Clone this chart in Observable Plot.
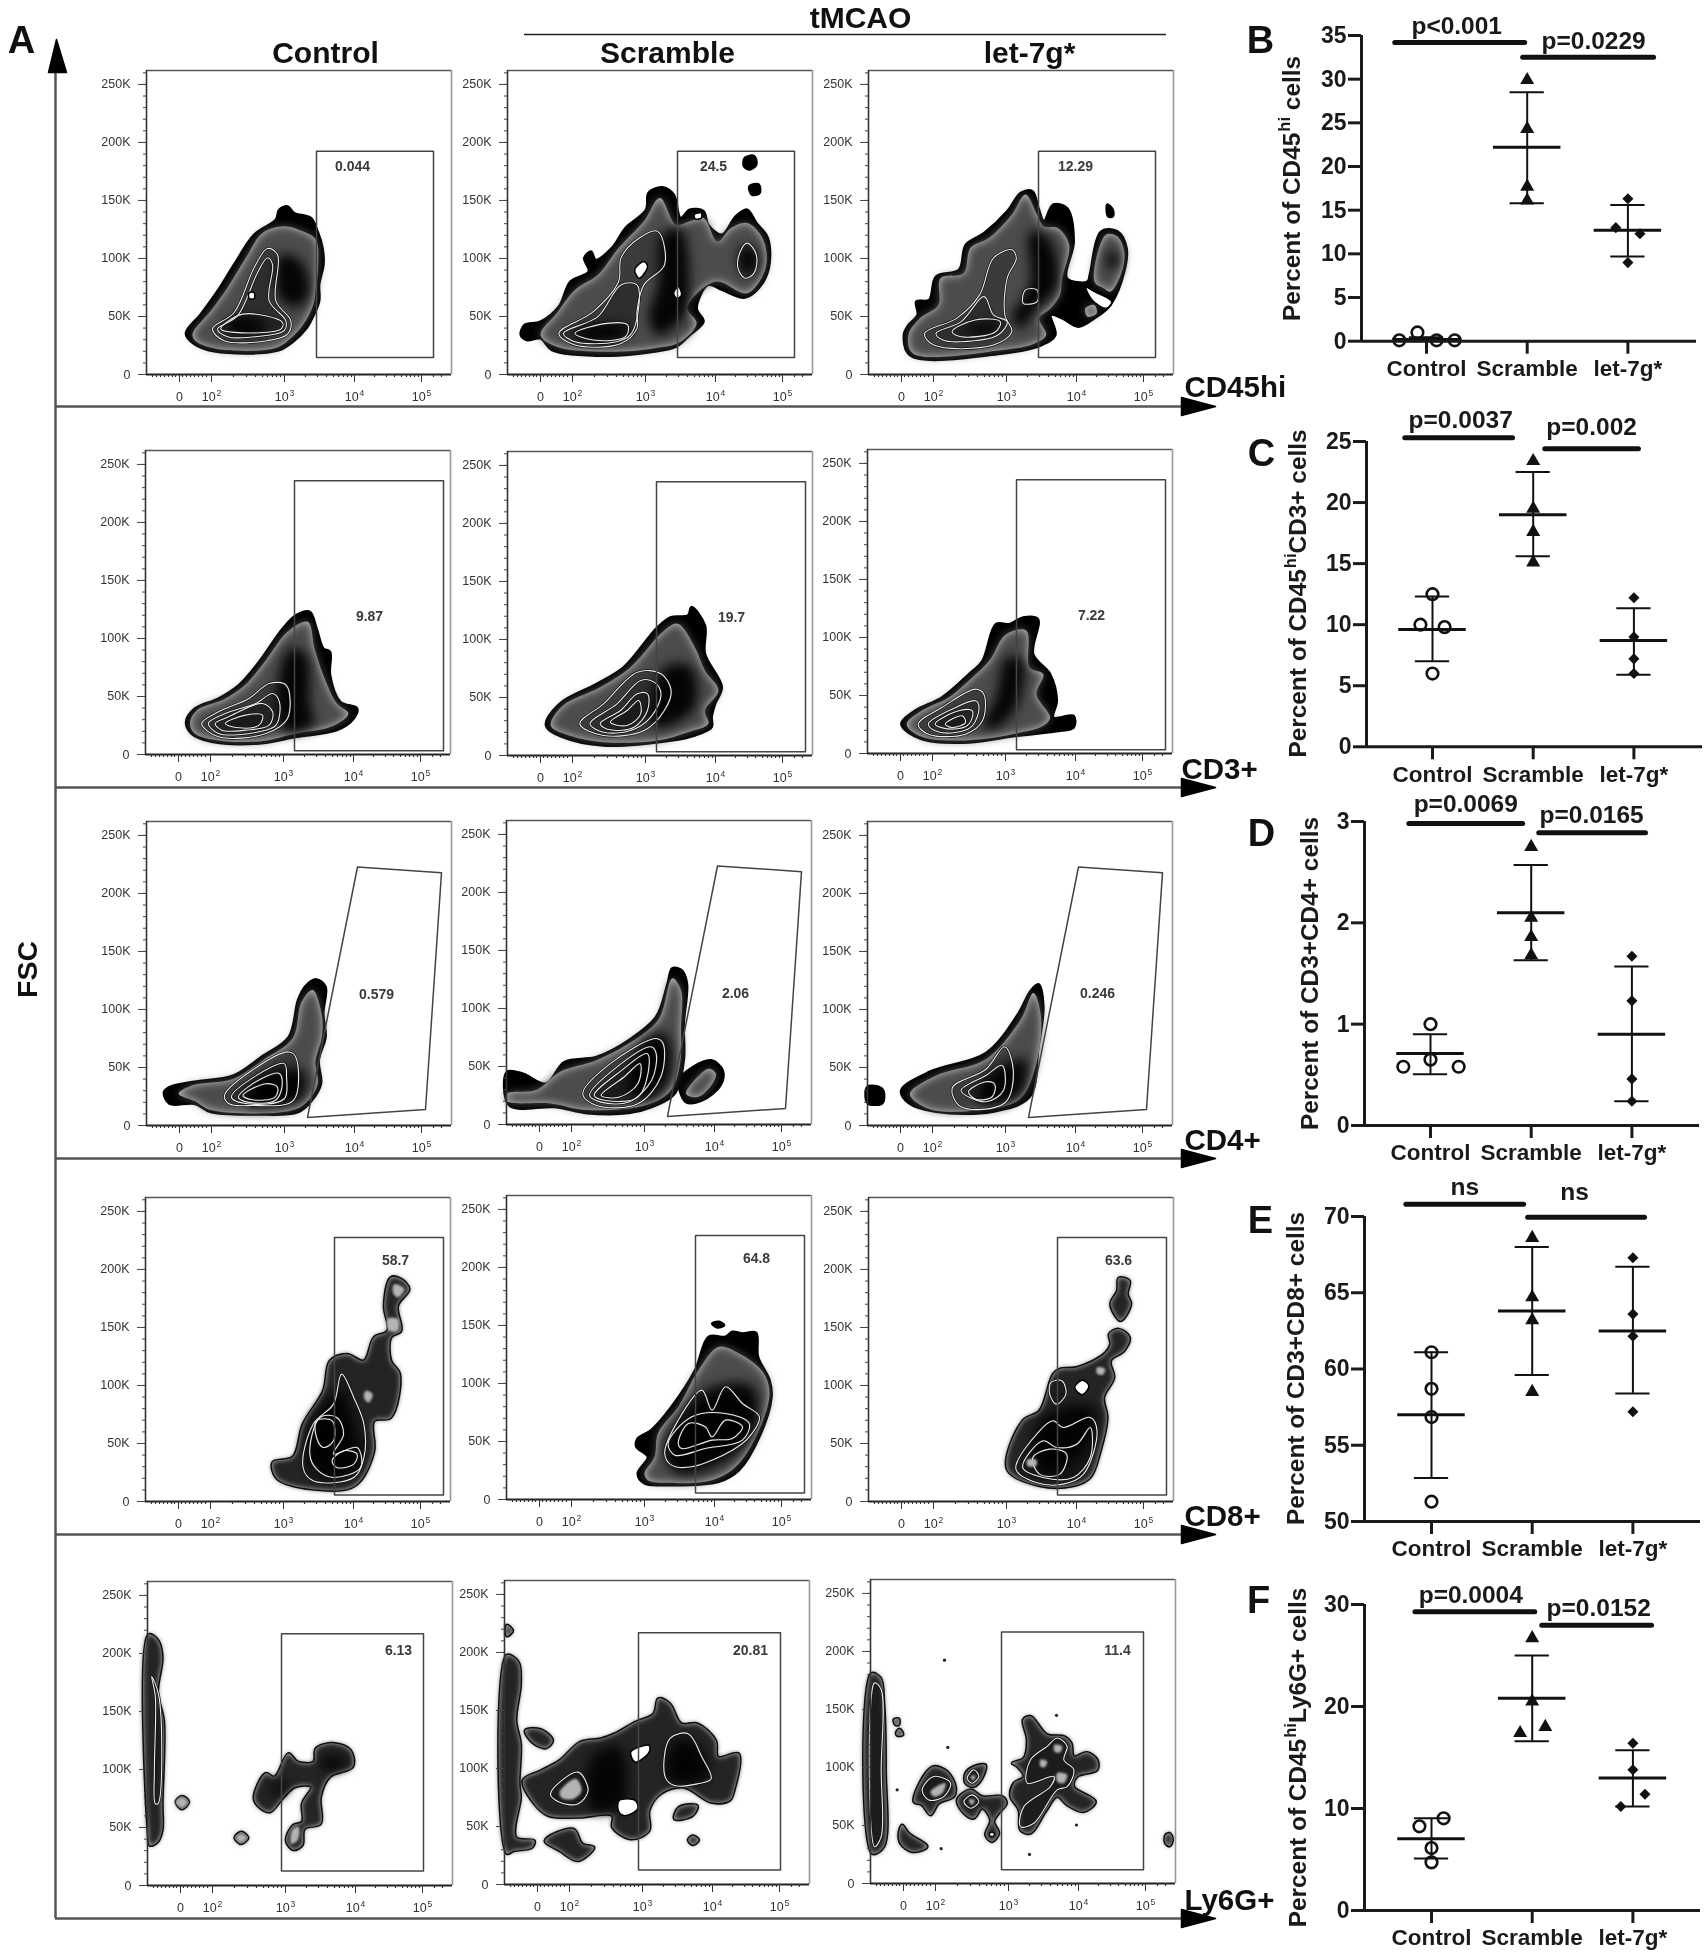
<!DOCTYPE html>
<html><head><meta charset="utf-8">
<script src="https://cdn.jsdelivr.net/npm/d3@7"></script>
<script src="https://cdn.jsdelivr.net/npm/@observablehq/plot@0.6"></script>
<style>html,body{margin:0;background:#fff}#page{position:relative;width:1705px;height:1955px;overflow:hidden;background:#fff;filter:blur(.35px)}</style>
</head><body><div id="page"></div>
<script>
// ---------- group summary panels B–F : [offset position, percent] ----------
const groups = ["Control", "Scramble", "let-7g*"];
const bControl = [[-0.27,0.1],[-0.09,1.0],[0.10,0.1],[0.28,0.1]];
const bScramble = [[1,29.9],[1,24.3],[1,17.7],[1,16.1]];
const bLet = [[2,16.3],[1.88,13.0],[2.12,12.3],[2,9.0]];
const bMean = [0.2,22.2,12.7], bHigh = [0.45,28.5,15.6], bLow = [0,15.8,9.7];
const cControl = [[0,12.5],[-0.12,10.0],[0.12,9.8],[0,6.0]];
const cScramble = [[1,23.4],[1,19.5],[1,17.6],[1,15.1]];
const cLet = [[2,12.2],[2,9.0],[2,7.2],[2,6.0]];
const cMean = [9.6,19.0,8.7], cHigh = [12.3,22.5,11.35], cLow = [7.0,15.6,5.9];
const dControl = [[0,1.0],[0,0.65],[-0.27,0.58],[0.28,0.58]];
const dScramble = [[1,2.75],[1,2.05],[1,1.86],[1,1.68]];
const dLet = [[2,1.67],[2,1.23],[2,0.46],[2,0.24]];
const dMean = [0.71,2.10,0.90], dHigh = [0.90,2.57,1.57], dLow = [0.505,1.63,0.24];
const eControl = [[0,61.1],[0,58.7],[0,56.85],[0,51.3]];
const eScramble = [[1,68.6],[1,64.7],[1,63.2],[1,58.5]];
const eLet = [[2,67.3],[2,63.6],[2,62.15],[2,57.2]];
const eMean = [57.0,63.8,62.5], eHigh = [61.1,68.0,66.7], eLow = [52.85,59.6,58.4];
const fControl = [[0.12,9.04],[-0.12,8.25],[0,6.12],[0,4.72]];
const fScramble = [[1,26.7],[1,20.5],[0.88,17.4],[1.13,18.0]];
const fLet = [[2,16.4],[2,13.8],[2.12,11.4],[1.88,10.2]];
const fMean = [7.04,20.8,13.0], fHigh = [9.04,25.0,15.7], fLow = [5.1,16.6,10.2];

// ---------- flow cytometry panels ----------
const fscTicks = [0,50,100,150,200,250];
const fscMinor = d3.range(0,261,10);
const channelTicks = [33,65,138,208,275];
const channelLabels = ["0","10^2","10^3","10^4","10^5"];
const channelMinor = [6,10,14,18,22,26,29,33,36,40,44,48,52,56,60,
  87,100,109,116,121,126,130,134, 159,171,180,187,192,197,201,205, 228,240,248,255,260,264,268,272, 287,295];

// gates: [channel, FSC in K]
const gateCd45 = [[170,14.6],[170,192.5],[287,192.5],[287,14.6]];
const gateCd3 = [[149,3.3],[149,236],[298,236],[298,3.3]];
const gateCd4 = [[161,7],[211,222.8],[295,217.9],[279,13.8]];
const gateCd8 = [[189,5.5],[189,227.5],[298,227.5],[298,5.5]];
const gateLy6 = [[134,12.5],[134,217],[276,217],[276,12.5]];
const gateLy6Let = [[131,11.8],[131,216.7],[273,216.7],[273,11.8]];

// crop readings calibrate each contour outline onto channel / FSC
const c11={x0:437,sx:3,y0:1122,sy:3.5}, c12={x0:103,sx:2.178,y0:968,sy:3.47}, c13={x0:888,sx:2.178,y0:968,sy:3.47};
const c21={x0:22,sx:1.479,y0:938,sy:3.48}, c22={x0:558,sx:1.479,y0:945,sy:3.48}, c23={x0:1090,sx:1.479,y0:938,sy:3.48};
const c31={x0:100,sx:2.178,y0:945,sy:3.47}, c32={x0:884,sx:2.178,y0:942,sy:3.47}, c33={x0:695,sx:.8018,y0:903,sy:.928};
const c41={x0:22,sx:1.479,y0:932,sy:3.48}, c42={x0:556,sx:1.479,y0:928,sy:3.48}, c43={x0:1092,sx:1.479,y0:932,sy:3.48};
const c51={x0:103,sx:2.178,y0:945,sy:3.47}, c52={x0:880,sx:2.178,y0:941,sy:3.47}, c53={x0:60,sx:3,y0:940,sy:3.47};

const ctlCd45 = {
 sil:[[[555,998],[600,940],[650,870],[700,790],[760,700],[825,655],[835,625],[860,615],[880,635],[930,650],[950,690],[965,740],[968,790],[955,850],[955,900],[935,950],[915,985],[880,1020],[830,1050],[640,1052],[580,1030]]],
 body:[[[575,1000],[630,930],[680,860],[735,770],[785,695],[850,675],[905,690],[945,715],[952,790],[945,860],[938,910],[908,970],[873,1010],[825,1042],[650,1045],[585,1022]]],
 core:[[[840,760],[900,780],[925,880],[880,920],[830,880]],[[680,965],[740,950],[800,975],[780,995],[690,995]]],
 lines:[[[635,985],[700,935],[760,800],[800,742],[830,760],[825,900],[870,960],[860,1000],[800,1020],[670,1020]],[[650,985],[710,945],[770,815],[800,770],[815,790],[805,900],[855,960],[850,990],[790,1005],[680,1008]],[[660,985],[725,940],[845,965],[840,985],[700,995]]],
 holes:[[[745,875],[760,875],[760,893],[745,893]]]};
const scrCd45 = {
 sil:[[[132,850],[140,820],[175,810],[215,765],[240,690],[280,660],[270,620],[285,600],[295,625],[330,590],[360,530],[405,475],[410,425],[440,408],[465,430],[480,500],[500,475],[530,480],[540,520],[570,550],[600,495],[625,475],[645,515],[670,560],[672,650],[650,710],[620,738],[570,715],[540,700],[515,770],[530,810],[500,850],[470,885],[420,900],[320,912],[200,895],[175,860],[145,865]],
  [[620,320],[640,315],[645,340],[630,355],[618,345]],[[630,405],[650,400],[652,425],[635,430]]],
 body:[[[175,850],[210,785],[250,715],[300,670],[345,590],[400,510],[435,440],[470,520],[500,510],[530,500],[560,570],[590,530],[625,515],[660,565],[665,650],[625,725],[560,690],[520,720],[495,770],[515,815],[480,870],[420,890],[320,900],[210,885]]],
 core:[[[440,550],[480,530],[500,700],[490,790],[430,850],[410,800],[430,700]],[[250,835],[350,820],[370,840],[340,860],[260,860]],[[610,590],[640,590],[645,660],[615,665]]],
 lines:[[[215,845],[290,780],[345,690],[350,620],[390,560],[430,540],[445,640],[400,700],[385,780],[385,830],[350,875],[250,880]],[[225,845],[300,795],[350,700],[385,700],[385,800],[370,850],[340,870],[250,870]],[[250,845],[320,815],[365,820],[360,855],[290,865]],[[625,575],[645,610],[640,665],[620,680],[605,650],[610,600]]],
 holes:[[[380,655],[400,630],[408,645],[390,680]],[[465,725],[475,705],[482,730],[472,740]],[[510,490],[525,485],[525,500],[512,503]]]};
const letCd45 = {
 sil:[[[965,850],[975,820],[995,790],[992,750],[1020,745],[1035,675],[1085,655],[1100,580],[1140,545],[1190,480],[1220,425],[1245,420],[1258,470],[1270,510],[1290,460],[1320,470],[1335,570],[1320,680],[1365,690],[1370,670],[1395,540],[1430,540],[1450,590],[1445,660],[1415,760],[1380,800],[1345,825],[1310,800],[1285,790],[1295,850],[1265,880],[1180,905],[980,912]],
  [[1408,460],[1420,475],[1420,495],[1410,495]]],
 body:[[[975,850],[1000,800],[1040,760],[1045,680],[1095,665],[1110,590],[1150,560],[1200,490],[1230,430],[1255,490],[1270,525],[1300,530],[1325,580],[1310,680],[1305,730],[1285,770],[1260,800],[1275,850],[1250,875],[1180,895],[985,905]],
  [[1380,690],[1405,550],[1430,555],[1445,600],[1440,660],[1415,720],[1400,710]],[[1360,770],[1380,760],[1385,785],[1365,795]]],
 core:[[[1240,540],[1280,560],[1300,700],[1250,780],[1220,830],[1200,800],[1240,700]],[[1100,835],[1150,815],[1180,830],[1120,850]],[[1410,600],[1430,610],[1425,650],[1410,650]]],
 lines:[[[1010,845],[1080,800],[1130,730],[1160,620],[1200,595],[1210,620],[1190,680],[1185,790],[1200,840],[1160,880],[1030,880]],[[1035,845],[1090,810],[1140,735],[1160,790],[1190,810],[1170,850],[1090,870],[1050,865]],[[1070,840],[1120,805],[1175,810],[1165,840],[1090,855]],[[1230,715],[1255,715],[1255,750],[1225,755]]],
 holes:[[[1362,708],[1380,720],[1418,750],[1405,770],[1375,745]]]};

const ctlCd3 = {
 sil:[[[82,840],[95,800],[130,770],[160,730],[190,660],[225,560],[245,520],[265,510],[275,560],[285,620],[295,630],[295,700],[310,780],[335,800],[330,830],[305,865],[245,885],[190,905],[120,900],[90,875]]],
 body:[[[88,840],[98,805],[138,772],[168,732],[200,655],[232,570],[262,540],[272,620],[285,700],[305,785],[322,815],[300,852],[240,877],[190,899],[120,893],[93,872]]],
 core:[[[235,620],[260,640],[265,780],[270,850],[230,870],[215,800]]],
 lines:[[[105,845],[130,810],[175,770],[205,725],[230,730],[232,830],[200,875],[130,885]],[[115,845],[140,815],[185,785],[210,755],[220,780],[215,850],[190,870],[130,875]],[[125,845],[145,825],[195,785],[210,810],[205,850],[170,865],[135,865]],[[140,845],[170,820],[195,820],[190,850],[160,858]]]};
const scrCd3 = {
 sil:[[[615,855],[635,790],[690,730],[730,680],[780,560],[800,530],[825,525],[830,500],[850,555],[850,640],[875,740],[865,790],[860,830],[860,860],[835,885],[800,900],[700,915],[640,890]]],
 body:[[[622,855],[640,795],[695,740],[740,680],[790,570],[810,550],[835,620],[850,690],[870,750],[850,810],[855,850],[825,875],[780,900],[700,905],[645,882]]],
 core:[[[790,680],[830,680],[835,800],[790,860],[770,850]]],
 lines:[[[665,850],[700,790],[750,695],[785,700],[800,750],[790,810],[760,870],[700,885]],[[680,850],[720,790],[755,720],[775,725],[785,760],[770,830],[740,870],[700,875]],[[695,850],[725,810],[750,760],[765,760],[765,810],[745,860],[710,868]],[[710,845],[735,810],[752,780],[755,820],[735,855]]]};
const letCd3 = {
 sil:[[[1140,850],[1160,810],[1200,770],[1240,700],[1260,660],[1280,550],[1300,550],[1320,530],[1342,535],[1335,640],[1360,700],[1370,780],[1365,830],[1395,825],[1395,860],[1375,870],[1310,885],[1240,905],[1170,895]]],
 body:[[[1148,850],[1170,810],[1210,770],[1245,710],[1270,660],[1295,580],[1325,570],[1330,680],[1350,700],[1340,760],[1360,830],[1350,855],[1310,878],[1240,898],[1170,888]]],
 core:[[[1295,650],[1320,660],[1310,800],[1280,860],[1260,860],[1280,770]]],
 lines:[[[1165,850],[1200,800],[1250,745],[1262,760],[1260,840],[1235,880],[1180,880]],[[1180,850],[1215,805],[1250,780],[1255,800],[1245,855],[1220,875],[1190,870]],[[1190,850],[1225,810],[1245,810],[1240,850],[1215,865]],[[1205,850],[1230,825],[1235,845],[1215,860]]]};

const ctlCd4 = {
 sil:[[[138,845],[150,830],[200,815],[290,795],[350,740],[410,680],[430,570],[445,530],[470,508],[490,530],[485,610],[490,680],[475,750],[480,820],[460,870],[430,905],[340,912],[240,905],[205,880],[150,880]]],
 body:[[[170,850],[200,825],[290,805],[355,748],[418,685],[438,575],[462,540],[482,615],[482,680],[468,755],[473,820],[447,878],[412,902],[240,899],[205,872]]],
 core:[[[350,800],[440,780],[440,860],[320,880]]],
 lines:[[[270,855],[330,780],[410,725],[425,740],[420,870],[330,885],[280,880]],[[285,860],[340,795],[400,760],[405,800],[400,865],[320,880]],[[300,860],[350,805],[390,790],[395,830],[380,870],[320,875]],[[310,855],[360,820],[385,830],[380,860],[330,868]]]};
const scrCd4 = {
 sil:[[[885,785],[920,790],[970,820],[1010,755],[1080,740],[1150,690],[1210,620],[1235,520],[1245,475],[1265,480],[1277,520],[1270,640],[1270,750],[1250,850],[1200,890],[1150,908],[1060,908],[990,890],[890,885]],[[1260,810],[1290,770],[1330,750],[1355,780],[1350,825],[1310,870],[1275,875]]],
 body:[[[885,850],[950,838],[1000,785],[1080,750],[1150,700],[1215,628],[1245,505],[1264,540],[1264,650],[1262,760],[1242,840],[1192,882],[1060,899],[980,879],[885,872]],[[1275,850],[1300,800],[1325,775],[1340,790],[1330,825],[1300,860]]],
 core:[[[1180,700],[1230,670],[1240,800],[1190,870],[1150,830]]],
 lines:[[[1050,850],[1110,760],[1210,685],[1225,700],[1220,800],[1170,880],[1080,885]],[[1065,855],[1120,775],[1200,710],[1210,730],[1200,810],[1150,875],[1090,875]],[[1075,855],[1135,780],[1190,730],[1195,760],[1170,860],[1100,870]],[[1090,855],[1140,800],[1175,760],[1170,820],[1130,860]]]};
const letCd4 = {
 sil:[[[695,872],[707,874],[707,885],[695,885]],[[722,875],[745,860],[790,845],[815,815],[826,795],[832,790],[836,808],[832,840],[825,880],[795,892],[750,892],[728,885]]],
 body:[[[729,878],[750,863],[790,850],[818,818],[828,797],[834,815],[830,855],[817,882],[790,890],[745,890]]],
 core:[[[790,865],[822,850],[818,878],[785,886]]],
 lines:[[[763,873],[790,858],[805,840],[812,860],[805,885],[770,888]],[[770,875],[790,863],[803,855],[804,875],[790,884]],[[776,876],[790,868],[797,870],[795,880],[782,882]]]};

const ctlCd8 = {
 sil:[[[210,815],[240,798],[255,700],[285,600],[295,510],[320,490],[345,510],[360,440],[380,420],[375,345],[385,260],[400,265],[412,295],[395,345],[400,420],[385,440],[385,510],[398,550],[385,680],[360,690],[360,780],[340,870],[320,895],[240,885],[215,860]]],
 core:[[[270,680],[310,600],[330,700],[340,820],[290,860],[260,800]]],
 lines:[[[255,830],[270,700],[300,640],[312,550],[330,620],[345,700],[345,800],[330,860],[270,870]],[[265,790],[280,680],[305,680],[315,730],[300,790],[335,770],[340,830],[300,860],[275,835]],[[298,810],[315,780],[335,790],[330,820],[305,830]],[[275,690],[298,690],[300,750],[285,770],[275,740]]],
 light:[[[348,600],[358,610],[352,635],[345,620]],[[380,385],[395,385],[395,420],[382,420]],[[390,280],[405,295],[395,320],[388,305]]]};
const scrCd8 = {
 sil:[[[750,850],[765,800],[748,770],[750,745],[770,720],[800,650],[835,540],[855,440],[880,440],[890,425],[905,430],[925,428],[928,500],[945,570],[948,620],[930,740],[900,840],[870,875],[790,885],[760,880]],[[860,400],[870,395],[878,405],[868,412]]],
 body:[[[760,850],[775,800],[780,730],[810,650],[840,540],[870,470],[900,490],[935,545],[945,610],[925,740],[895,830],[860,870],[790,878],[765,870]]],
 core:[[[850,600],[920,590],[925,700],[890,800],[810,850],[790,780]]],
 lines:[[[790,790],[810,690],[845,600],[860,660],[880,590],[905,640],[930,680],[915,740],[890,780],[830,830],[800,825]],[[795,760],[830,680],[880,670],[915,700],[905,750],[850,775],[805,795]],[[810,760],[825,700],[850,710],[860,740],[880,690],[905,710],[890,745],[860,750],[815,775]]]};
const letCd8 = {
 sil:[[[1297,835],[1320,690],[1345,660],[1365,550],[1375,535],[1400,530],[1440,490],[1450,460],[1448,430],[1462,415],[1478,440],[1470,480],[1450,510],[1455,560],[1440,620],[1445,680],[1435,780],[1420,860],[1395,885],[1345,885]],[[1462,262],[1478,270],[1475,310],[1480,340],[1465,390],[1450,340],[1460,300]]],
 core:[[[1340,700],[1400,640],[1430,660],[1400,800],[1350,840]]],
 lines:[[[1310,835],[1345,720],[1365,690],[1380,710],[1420,680],[1430,720],[1410,850],[1380,880],[1340,875]],[[1320,830],[1350,750],[1370,770],[1400,760],[1420,710],[1420,800],[1395,860],[1350,860]],[[1335,800],[1360,775],[1385,790],[1375,850],[1345,850]],[[1362,575],[1378,570],[1384,610],[1370,640],[1360,610]]],
 light:[[[1327,807],[1340,807],[1340,825],[1327,825]],[[1430,530],[1442,535],[1438,552],[1430,548]]],
 holes:[[[1408,568],[1418,585],[1408,612],[1397,590]]]};

const ctlLy6 = {
 sil:[[[105,195],[125,210],[135,260],[125,370],[138,450],[135,700],[135,780],[125,815],[108,825],[105,800]],
  [[335,685],[360,610],[380,620],[410,550],[430,575],[465,575],[470,535],[510,520],[545,540],[550,590],[500,620],[480,680],[480,760],[445,775],[440,825],[420,838],[405,810],[420,765],[440,755],[440,700],[460,650],[425,650],[400,680],[370,725],[350,715]],
  [[165,695],[178,678],[193,695],[178,716]],[[293,802],[307,785],[322,802],[307,820]]],
 core:[[[480,570],[530,560],[530,590],[490,600]],[[370,650],[410,640],[400,670],[375,670]]],
 lines:[[[112,320],[120,380],[118,600],[120,700],[126,700],[128,380]]],
 light:[[[165,695],[178,682],[190,695],[178,712]],[[296,802],[307,790],[319,802],[307,816]],[[418,780],[432,770],[430,810],[416,820]]]};
const scrLy6 = {
 sil:[[[885,255],[910,275],[915,340],[905,450],[915,520],[912,640],[915,680],[905,800],[945,810],[940,830],[900,840],[885,848]],
  [[920,630],[960,600],[1000,570],[1045,515],[1090,505],[1120,490],[1165,455],[1205,430],[1215,385],[1240,400],[1265,460],[1300,460],[1340,510],[1345,560],[1390,550],[1380,660],[1370,690],[1330,695],[1270,650],[1220,670],[1195,720],[1195,780],[1155,805],[1115,770],[1115,735],[1040,740],[975,735],[945,700]],
  [[925,480],[960,478],[985,510],[970,533],[940,515]],[[1250,745],[1260,710],[1300,705],[1290,735]],[[1280,808],[1290,795],[1303,808],[1290,822]],[[968,810],[1030,775],[1050,820],[1075,830],[1040,870],[1000,840]],[[885,165],[898,182],[885,198]]],
 core:[[[1070,560],[1130,530],[1140,700],[1070,720]],[[1250,520],[1300,520],[1320,620],[1240,630]]],
 lines:[[[1230,620],[1240,505],[1280,490],[1310,560],[1330,625],[1300,640],[1250,645]],[[980,670],[1040,605],[1062,660],[1040,700],[1000,695]]],
 light:[[[1000,665],[1035,625],[1048,660],[1030,685],[1005,682]]],
 holes:[[[1130,690],[1165,690],[1170,715],[1140,735],[1128,720]],[[1155,545],[1195,525],[1195,545],[1165,575]]]};
const letLy6 = {
 sil:[[[62,312],[90,325],[100,400],[105,600],[100,830],[65,850]],
  [[190,695],[225,610],[250,590],[290,605],[315,650],[310,680],[265,700],[240,735],[215,705]],
  [[345,610],[370,590],[405,585],[395,625],[370,650],[345,640]],
  [[320,690],[360,660],[395,680],[455,680],[468,700],[445,730],[430,755],[445,790],[425,815],[405,795],[420,750],[395,715],[370,745],[340,730]],
  [[485,580],[520,565],[530,510],[518,450],[540,440],[590,495],[640,500],[662,520],[670,560],[710,548],[740,570],[740,600],[680,620],[670,650],[735,695],[700,725],[650,705],[620,680],[585,725],[540,790],[510,780],[505,720],[480,680],[490,640],[520,620],[500,590]],
  [[145,790],[155,765],[175,790],[230,830],[185,845],[150,820]],[[945,795],[958,790],[966,808],[958,828],[945,820]],[[130,450],[145,448],[145,465],[135,465]],[[137,490],[147,478],[158,495],[140,497]]],
 lines:[[[510,770],[520,710],[600,650],[610,620],[530,640],[540,570],[590,530],[620,505],[650,530],[640,570],[670,600],[650,650],[620,660],[550,760]],[[215,660],[250,620],[300,640],[280,680],[235,690]],[[350,625],[370,600],[385,620],[365,640]],[[340,695],[365,675],[385,695],[360,715]],[[72,340],[92,360],[92,600],[92,800],[72,830]]],
 light:[[[240,665],[285,640],[275,670],[250,680]],[[612,525],[635,530],[628,548],[612,545]],[[570,570],[590,575],[582,592],[570,590]],[[620,610],[650,615],[640,640],[620,635]],[[355,690],[372,690],[365,705]],[[360,620],[375,618],[368,632]]],
 holes:[[[418,788],[430,788],[430,798],[418,798]]]};
const letLy6Specks = [[282,272],[618,437],[292,533],[140,660],[272,836],[678,765],[537,853]];

// ---------- helpers ----------
const font = "Liberation Sans, Arial, sans-serif";
const SVGNS = "http://www.w3.org/2000/svg";
const page = document.getElementById("page");
const toPts = (polys, c) => polys.flatMap((p, i) => p.map(([a, b]) => ({id: i, x: (a - c.x0) / c.sx, y: (c.y0 - b) / c.sy})));
const shape = (polys, c, o) => Plot.line(toPts(polys || [], c), {x: "x", y: "y", z: "id", curve: "catmull-rom-closed", ...o});
function raise(svg) {
  svg.querySelectorAll("text").forEach(t => {
    if (!t.textContent.includes("^")) return;
    const parts = t.textContent.split("^");
    t.textContent = "";
    parts.forEach((s, i) => {
      const ts = document.createElementNS(SVGNS, "tspan");
      ts.textContent = s;
      if (i % 2) { ts.setAttribute("font-size", "68%"); ts.setAttribute("dy", "-0.6em"); ts.setAttribute("dx", "1"); }
      else if (i) ts.setAttribute("dy", "0.41em");
      t.appendChild(ts);
    });
  });
}
function place(svg, left, top) {
  raise(svg);
  svg.style.position = "absolute"; svg.style.left = left + "px"; svg.style.top = top + "px";
  svg.style.background = "transparent"; svg.style.overflow = "visible";
  page.appendChild(svg);
}

function flowPanel({left, top, blob, cal, gate, label, lx, ly, rimFill = "#c6c6c6", bodyFill = "#4c4c4c", soft = 4.5, extra = []}) {
  const ml = 62, mt = 4, mb = 48, mr = 4;
  const area = blob.body || blob.sil;
  const marks = [
    shape(blob.sil, cal, {fill: "#000", stroke: "#000", strokeWidth: blob.body ? 2.5 : 3}),
    shape(area, cal, {fill: rimFill, stroke: "none"}),
    shape(area, cal, {fill: bodyFill, stroke: "none", imageFilter: `blur(${soft}px)`}),
    shape(blob.core, cal, {fill: "#050505", imageFilter: "blur(6px)"}),
    shape(blob.lines, cal, {fill: "#000", fillOpacity: 0.22, stroke: "#111", strokeWidth: 2.4}),
    shape(blob.lines, cal, {stroke: "#ececec", strokeWidth: 1.1}),
    shape(blob.light, cal, {fill: "#b4b4b4", imageFilter: "blur(1.2px)"}),
    shape(blob.holes, cal, {fill: "#fff", stroke: "#000", strokeWidth: 1.5}),
    ...extra,
    Plot.line(gate, {x: d => d[0], y: d => d[1], curve: "linear-closed", stroke: "#444", strokeWidth: 1.5}),
    Plot.text([label], {x: lx, y: ly, fontSize: 14, fontWeight: "bold", fill: "#3a3a3a"}),
    Plot.ruleY([262], {stroke: "#555", strokeWidth: 1.6}),
    Plot.ruleX([305], {stroke: "#9a9a9a", strokeWidth: 1.6}),
    Plot.ruleX([0], {stroke: "#333", strokeWidth: 1.6}),
    Plot.ruleY([0], {stroke: "#222", strokeWidth: 2}),
    Plot.ruleY(fscMinor, {x1: -3, x2: 0, stroke: "#444"}),
    Plot.ruleX(channelMinor, {y1: -2.6, y2: 0, stroke: "#333", strokeWidth: 1.2}),
    Plot.axisY(fscTicks, {label: null, tickSize: 8, tickPadding: 8, fontSize: 12.5, fill: "#333", stroke: "#444",
      tickFormat: d => d ? d + "K" : "0", anchor: "left"}),
    Plot.axisX(channelTicks, {label: null, tickSize: 8, tickPadding: 10, fontSize: 12.5, fill: "#333", stroke: "#333",
      tickFormat: d => channelLabels[channelTicks.indexOf(d)], anchor: "bottom"})
  ];
  const svg = Plot.plot({width: 305 + ml + mr, height: 304 + mt + mb, marginLeft: ml, marginRight: mr, marginTop: mt, marginBottom: mb,
    x: {domain: [0, 305], axis: null}, y: {domain: [0, 262], axis: null}, style: {fontFamily: font}, marks});
  place(svg, left - ml, top - mt);
}

function summaryPanel({axisX, right, top, bottom, ctl, yDomain, yTicks, ctrl, scr, let7, mean, high, low, bars, sigs}) {
  const ml = 90, mr = 6, mt = 60, mb = 50, step = 100.7;
  const xMin = (axisX - ctl) / step, xMax = (right - ctl) / step;
  const idx = [0, 1, 2];
  const pts = {x: d => d[0], y: d => d[1]};
  const marks = [
    Plot.ruleX(idx, {x: i => i, y1: i => low[i], y2: i => high[i], stroke: "#111", strokeWidth: 2}),
    Plot.ruleY(idx, {y: i => high[i], x1: i => i - .17, x2: i => i + .17, stroke: "#111", strokeWidth: 2}),
    Plot.ruleY(idx, {y: i => low[i], x1: i => i - .17, x2: i => i + .17, stroke: "#111", strokeWidth: 2}),
    Plot.ruleY(idx, {y: i => mean[i], x1: i => i - .335, x2: i => i + .335, stroke: "#111", strokeWidth: 3}),
    Plot.dot(ctrl, {...pts, r: 5.8, stroke: "#111", strokeWidth: 2.6, fill: "none"}),
    Plot.dot(scr, {...pts, r: 5.2, symbol: "triangle", fill: "#111", stroke: "none"}),
    Plot.dot(let7, {...pts, r: 5, symbol: "diamond2", fill: "#111", stroke: "none"}),
    ...bars.map(([a, b, y]) => Plot.ruleY([y], {x1: a, x2: b, stroke: "#111", strokeWidth: 5, strokeLinecap: "round"})),
    ...sigs.map(([s, x, y]) => Plot.text([s], {x, y, fontSize: 24.5, fontWeight: "bold", lineAnchor: "bottom", fill: "#1a1a1a"})),
    Plot.ruleX([xMin], {stroke: "#1a1a1a", strokeWidth: 3}),
    Plot.ruleY([yDomain[0]], {stroke: "#1a1a1a", strokeWidth: 3}),
    Plot.axisY(yTicks, {label: null, tickFormat: d => String(d), tickSize: 13, tickPadding: 2, strokeWidth: 3, stroke: "#1a1a1a", fill: "#1a1a1a", fontSize: 23, fontWeight: "bold", anchor: "left"}),
    Plot.axisX(idx, {label: null, tickSize: 13, tickPadding: 6, strokeWidth: 3, stroke: "#1a1a1a", fill: "#1a1a1a", fontSize: 22.5, fontWeight: "bold",
      tickFormat: i => groups[i], anchor: "bottom"})
  ];
  const svg = Plot.plot({width: right - axisX + ml + mr, height: bottom - top + mt + mb, marginLeft: ml, marginRight: mr, marginTop: mt, marginBottom: mb,
    x: {domain: [xMin, xMax], axis: null}, y: {domain: yDomain, axis: null}, style: {fontFamily: font}, marks});
  place(svg, axisX - ml, top - mt);
}

// ---------- page furniture ----------
const separators = [406, 787, 1158, 1534, 1918];
const canvas = Plot.plot({width: 1705, height: 1955, margin: 0, marginTop: 0, marginLeft: 0, marginRight: 0, marginBottom: 0,
  x: {domain: [0, 1705], range: [0, 1705], axis: null}, y: {domain: [0, 1955], range: [0, 1955], axis: null},
  style: {fontFamily: font},
  marks: [
    Plot.ruleX([55], {y1: 60, y2: 1918, stroke: "#555", strokeWidth: 2.5}),
    Plot.ruleY(separators, {x1: 55, x2: 1190, stroke: "#555", strokeWidth: 2.5}),
    Plot.line([[56,39],[66,72],[48,72]], {x: d => d[0], y: d => d[1], curve: "linear-closed", fill: "#000", stroke: "#000"}),
    ...separators.map(y => Plot.line([[1181,y-9],[1215,y],[1181,y+9]], {x: d => d[0], y: d => d[1], curve: "linear-closed", fill: "#000", stroke: "#000"})),
    Plot.ruleY([34], {x1: 524, x2: 1166, stroke: "#222", strokeWidth: 1.5}),
    ...[["Control",325,62],["Scramble",667,62],["let-7g*",1029,62],["tMCAO",860,27]].map(([s,x,y]) =>
      Plot.text([s], {x, y, fontSize: 30, fontWeight: "bold", lineAnchor: "bottom", fill: "#111"})),
    ...[["A",21,52],["B",1260,52],["C",1261,465],["D",1261,845],["E",1260,1232],["F",1258,1612]].map(([s,x,y]) =>
      Plot.text([s], {x, y, fontSize: 38, fontWeight: "bold", lineAnchor: "bottom", fill: "#111"})),
    ...[["CD45hi",1184,396],["CD3+",1181,778],["CD4+",1184,1149],["CD8+",1184,1525],["Ly6G+",1184,1909]].map(([s,x,y]) =>
      Plot.text([s], {x, y, fontSize: 29.5, fontWeight: "bold", lineAnchor: "bottom", textAnchor: "start", fill: "#111"})),
    Plot.text(["FSC"], {x: 27, y: 969, fontSize: 28.5, fontWeight: "bold", rotate: -90, fill: "#111"}),
    ...[["Percent of CD45^hi^ cells",1292,188],["Percent of CD45^hi^CD3+ cells",1298,593],["Percent of CD3+CD4+ cells",1310,973],
        ["Percent of CD3+CD8+ cells",1296,1368],["Percent of CD45^hi^Ly6G+ cells",1298,1757]].map(([s,x,y]) =>
      Plot.text([s], {x, y, fontSize: 24.4, fontWeight: "bold", rotate: -90, fill: "#1a1a1a"}))
  ]});
place(canvas, 0, 0);

// ---------- flow panels ----------
const dense = {rimFill: "#b8b8b8", bodyFill: "#242424", soft: 2.4};
flowPanel({left:146,top:70, blob:ctlCd45,cal:c11,gate:gateCd45,label:"0.044",lx:206,ly:179});
flowPanel({left:507,top:70, blob:scrCd45,cal:c12,gate:gateCd45,label:"24.5",lx:206,ly:179});
flowPanel({left:868,top:70, blob:letCd45,cal:c13,gate:gateCd45,label:"12.29",lx:207,ly:179});
flowPanel({left:145,top:450,blob:ctlCd3,cal:c21,gate:gateCd3,label:"9.87",lx:224,ly:119});
flowPanel({left:507,top:451,blob:scrCd3,cal:c22,gate:gateCd3,label:"19.7",lx:224,ly:119});
flowPanel({left:867,top:449,blob:letCd3,cal:c23,gate:gateCd3,label:"7.22",lx:224,ly:119});
flowPanel({left:146,top:821,blob:ctlCd4,cal:c31,gate:gateCd4,label:"0.579",lx:230,ly:113});
flowPanel({left:506,top:820,blob:scrCd4,cal:c32,gate:gateCd4,label:"2.06",lx:229,ly:113});
flowPanel({left:867,top:821,blob:letCd4,cal:c33,gate:gateCd4,label:"0.246",lx:230,ly:114});
flowPanel({left:145,top:1197,blob:ctlCd8,cal:c41,gate:gateCd8,label:"58.7",lx:250,ly:208,...dense});
flowPanel({left:506,top:1195,blob:scrCd8,cal:c42,gate:gateCd8,label:"64.8",lx:250,ly:208});
flowPanel({left:868,top:1197,blob:letCd8,cal:c43,gate:gateCd8,label:"63.6",lx:250,ly:208,...dense});
flowPanel({left:147,top:1581,blob:ctlLy6,cal:c51,gate:gateLy6,label:"6.13",lx:251,ly:202.5,...dense});
flowPanel({left:504,top:1580,blob:scrLy6,cal:c52,gate:gateLy6,label:"20.81",lx:246,ly:201.5,...dense});
flowPanel({left:870,top:1579,blob:letLy6,cal:c53,gate:gateLy6Let,label:"11.4",lx:247,ly:201,...dense,
  extra:[Plot.dot(toPts([letLy6Specks],c53),{x:"x",y:"y",r:1.6,fill:"#222"})]});

// ---------- summary panels ----------
summaryPanel({axisX:1361,right:1696,top:35,bottom:340.7,ctl:1426,yDomain:[0,35],yTicks:d3.range(0,36,5),ctrl:bControl,scr:bScramble,let7:bLet,mean:bMean,high:bHigh,low:bLow,
  bars:[[-0.31,0.98,34.2],[0.96,2.26,32.5]],sigs:[["p<0.001",0.30,35.2],["p=0.0229",1.66,33.5]]});
summaryPanel({axisX:1366,right:1702,top:440.7,bottom:746,ctl:1432,yDomain:[0,25],yTicks:d3.range(0,26,5),ctrl:cControl,scr:cScramble,let7:cLet,mean:cMean,high:cHigh,low:cLow,
  bars:[[-0.27,0.80,25.3],[1.12,2.05,24.4]],sigs:[["p=0.0037",0.28,26.1],["p=0.002",1.58,25.5]]});
summaryPanel({axisX:1364,right:1699,top:821,bottom:1125,ctl:1430,yDomain:[0,3],yTicks:[0,1,2,3],ctrl:dControl,scr:dScramble,let7:dLet,mean:dMean,high:dHigh,low:dLow,
  bars:[[-0.21,0.92,2.98],[1.08,2.14,2.89]],sigs:[["p=0.0069",0.35,3.09],["p=0.0165",1.60,2.99]]});
summaryPanel({axisX:1364,right:1700,top:1216,bottom:1521,ctl:1431,yDomain:[50,70],yTicks:d3.range(50,71,5),ctrl:eControl,scr:eScramble,let7:eLet,mean:eMean,high:eHigh,low:eLow,
  bars:[[-0.25,0.92,70.8],[0.96,2.12,69.95]],sigs:[["ns",0.33,71.44],["ns",1.42,71.1]]});
summaryPanel({axisX:1364,right:1700,top:1604,bottom:1910,ctl:1431,yDomain:[0,30],yTicks:[0,10,20,30],ctrl:fControl,scr:fScramble,let7:fLet,mean:fMean,high:fHigh,low:fLow,
  bars:[[-0.16,1.03,29.3],[1.10,2.19,27.97]],sigs:[["p=0.0004",0.39,30.1],["p=0.0152",1.66,28.9]]});
</script></body></html>
